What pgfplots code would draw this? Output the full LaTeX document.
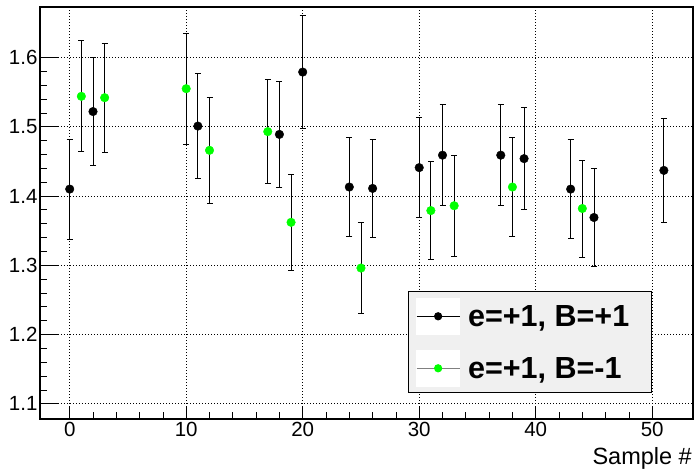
\documentclass[border=0pt]{standalone}
\usepackage{fontspec}
\setmainfont{Liberation Sans}
\usepackage{pgfplots}
\pgfplotsset{compat=1.18}
\definecolor{rgreen}{RGB}{0,255,0}
\definecolor{legbg}{RGB}{240,240,240}
\begin{document}
\begin{tikzpicture}
\path[use as bounding box] (-40pt,-51pt) rectangle (654pt,419pt);
\begin{axis}[
 at={(0,0)}, anchor=south west,
 scale only axis, width=653pt, height=412pt,
 xmin=-2.55, xmax=53.5, ymin=1.078, ymax=1.673,
 xtick={0,10,20,30,40,50}, ytick={1.1,1.2,1.3,1.4,1.5,1.6},
 minor x tick num=4, minor y tick num=4,
 tick align=inside, tick pos=left,
 major tick length=13pt, minor tick length=7pt,
 extra y ticks={1.1,1.2,1.3,1.4,1.5,1.6},
 extra y tick labels={},
 extra y tick style={major tick length=19pt, grid=none},
 grid=major, major grid style={dash pattern=on 1pt off 2pt, black, line width=0.8pt},
 axis line style={line width=1.2pt},
 tick style={black, line width=0.8pt},
 ticklabel style={font=\fontsize{20.5}{20.5}\selectfont},
 /pgf/number format/assume math mode=true,
 yticklabel style={xshift=1pt, /pgf/number format/.cd, fixed, fixed zerofill, precision=1},
 xlabel={Sample \#},
 xlabel style={at={(rel axis cs:1,0)}, anchor=base east, yshift=-46pt, xshift=-1pt, inner sep=0pt, font=\fontsize{23.5}{23.5}\selectfont},
 legend image code/.code={
   \fill[white] (0pt,-18pt) rectangle (43pt,18pt);
   \draw[mark repeat=2, mark phase=2, #1] plot coordinates {(0pt,0pt) (21.5pt,0pt) (43pt,0pt)};
 },
 legend style={at={(rel axis cs:0.563,0.0624)}, anchor=south west, draw=black, line width=1pt, fill=legbg,
   font=\bfseries\fontsize{30.5}{31}\selectfont, inner xsep=8pt, inner ysep=6pt, row sep=15pt,
   nodes={inner sep=1pt}, /tikz/every odd column/.style={column sep=7pt}},
 legend cell align=left,
]
\addlegendimage{black, line width=1pt, mark=*, mark options={fill=black, draw=black, mark size=3.6pt}}
\addlegendentry{e=+1, B=+1\kern13pt}
\addlegendimage{gray, line width=1pt, mark=*, mark options={fill=rgreen, draw=rgreen, mark size=3.6pt}}
\addlegendentry{e=+1, B=-1\kern13pt}

\addplot[only marks, mark=*, mark size=4.3pt, mark options={fill=black, draw=black},
  error bars/.cd, y dir=both, y explicit, error mark=|, error mark options={black, mark size=3pt, line width=0.9pt},
  error bar style={black, line width=0.9pt}]
 table[x=x, y=y, y error=e] {
x y e
0 1.410 0.072
2 1.522 0.078
11 1.501 0.076
18 1.489 0.076
20 1.579 0.082
24 1.413 0.072
26 1.411 0.071
30 1.441 0.072
32 1.459 0.073
37 1.459 0.073
39 1.454 0.074
43 1.410 0.071
45 1.369 0.071
51 1.437 0.075
};
\addplot[only marks, mark=*, mark size=4.3pt, mark options={fill=rgreen, draw=rgreen},
  error bars/.cd, y dir=both, y explicit, error mark=|, error mark options={black, mark size=3pt, line width=0.9pt},
  error bar style={black, line width=0.9pt}]
 table[x=x, y=y, y error=e] {
x y e
1 1.544 0.080
3 1.542 0.079
10 1.555 0.080
12 1.466 0.076
17 1.493 0.075
19 1.362 0.069
25 1.296 0.066
31 1.379 0.071
33 1.386 0.073
38 1.413 0.072
44 1.382 0.070
};
\end{axis}
\end{tikzpicture}
\end{document}
